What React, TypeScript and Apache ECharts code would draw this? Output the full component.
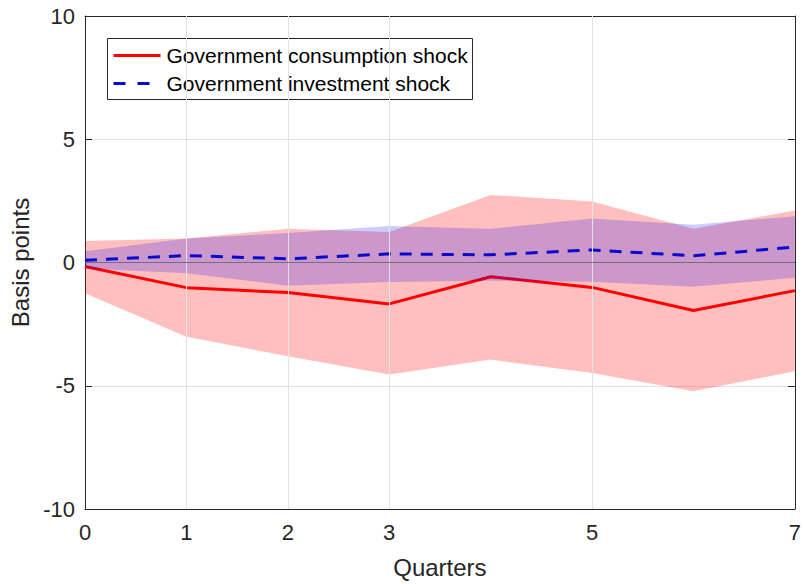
import React, { useEffect, useRef } from "react";
import * as echarts from "echarts";

const QUARTERS = [0, 1, 2, 3, 4, 5, 6, 7];
const X_TICKS = [0, 1, 2, 3, 5, 7];

const CONS_MEDIAN = [-0.16, -1.02, -1.22, -1.68, -0.58, -1.01, -1.95, -1.14];
const CONS_LOWER = [-1.25, -3.01, -3.8, -4.54, -3.94, -4.48, -5.22, -4.41];
const CONS_UPPER = [0.87, 0.97, 1.37, 1.24, 2.74, 2.47, 1.37, 2.11];

const INV_MEDIAN = [0.09, 0.28, 0.15, 0.35, 0.31, 0.51, 0.27, 0.63];
const INV_LOWER = [-0.24, -0.44, -0.94, -0.79, -0.74, -0.78, -0.98, -0.62];
const INV_UPPER = [0.46, 0.97, 1.2, 1.48, 1.37, 1.79, 1.53, 1.88];

const LEGEND_LABELS = ["Government consumption shock", "Government investment shock"];

const FONT = "'Liberation Sans', Arial, Helvetica, sans-serif";
const AXIS_COLOR = "#262626";
const GRID_COLOR = "#e3e3e3";
const RED = "#ff0000";
const BLUE = "#0a0acc";

function bandSeries(name: string, lower: number[], upper: number[], fill: string, z: number) {
  return {
    type: "custom",
    name,
    z,
    silent: true,
    data: QUARTERS.map((q, i) => [q, lower[i], upper[i]]),
    encode: { x: 0, y: [1, 2] },
    renderItem: (params: any, api: any) => {
      if (params.dataIndex !== 0) return null;
      const top = QUARTERS.map((q, i) => api.coord([q, upper[i]]));
      const bottom = QUARTERS.map((q, i) => api.coord([q, lower[i]])).reverse();
      return {
        type: "polygon",
        shape: { points: top.concat(bottom) },
        style: { fill, stroke: "none" },
      };
    },
  };
}

export default function App() {
  const ref = useRef<HTMLDivElement>(null);

  useEffect(() => {
    if (!ref.current) return;
    const chart = echarts.init(ref.current, null, { renderer: "svg" });

    const commonAxisLine = { show: true, onZero: false, lineStyle: { color: AXIS_COLOR, width: 1 } };

    chart.setOption({
      animation: false,
      backgroundColor: "#ffffff",
      textStyle: { fontFamily: FONT },
      grid: { left: 85, right: 4, top: 16, bottom: 72, containLabel: false },
      xAxis: [
        {
          type: "value",
          position: "bottom",
          min: 0,
          max: 7,
          name: "Quarters",
          nameLocation: "middle",
          nameGap: 46,
          nameTextStyle: { fontSize: 24, color: AXIS_COLOR, fontFamily: FONT },
          axisLine: commonAxisLine,
          axisTick: { show: true, inside: true, length: 7, customValues: X_TICKS, lineStyle: { color: AXIS_COLOR } },
          axisLabel: { show: true, customValues: X_TICKS, fontSize: 22, color: AXIS_COLOR, margin: 12, fontFamily: FONT },
          splitLine: { show: false },
        },
        {
          type: "value",
          position: "top",
          min: 0,
          max: 7,
          axisLine: commonAxisLine,
          axisTick: { show: true, inside: true, length: 7, customValues: X_TICKS, lineStyle: { color: AXIS_COLOR } },
          axisLabel: { show: false },
          splitLine: { show: false },
        },
      ],
      yAxis: [
        {
          type: "value",
          position: "left",
          min: -10,
          max: 10,
          interval: 5,
          name: "Basis points",
          nameLocation: "middle",
          nameGap: 50,
          nameTextStyle: { fontSize: 24, color: AXIS_COLOR, fontFamily: FONT },
          axisLine: commonAxisLine,
          axisTick: { show: true, inside: true, length: 7, lineStyle: { color: AXIS_COLOR } },
          axisLabel: { fontSize: 22, color: AXIS_COLOR, margin: 10, fontFamily: FONT },
          splitLine: { show: true, lineStyle: { color: GRID_COLOR, width: 1 } },
        },
        {
          type: "value",
          position: "right",
          min: -10,
          max: 10,
          interval: 5,
          axisLine: commonAxisLine,
          axisTick: { show: true, inside: true, length: 7, lineStyle: { color: AXIS_COLOR } },
          axisLabel: { show: false },
          splitLine: { show: false },
        },
      ],
      series: [
        {
          type: "line",
          name: "grid",
          data: [],
          silent: true,
          z: 0,
          markLine: {
            silent: true,
            symbol: "none",
            label: { show: false },
            lineStyle: { color: GRID_COLOR, width: 1, type: "solid" },
            data: X_TICKS.filter((v) => v !== 0 && v !== 7).map((v) => ({ xAxis: v })),
          },
        },
        bandSeries("cons band", CONS_LOWER, CONS_UPPER, "rgba(255,0,0,0.25)", 1),
        {
          type: "line",
          name: LEGEND_LABELS[0],
          z: 2,
          data: QUARTERS.map((q, i) => [q, CONS_MEDIAN[i]]),
          showSymbol: false,
          symbol: "none",
          lineStyle: { color: RED, width: 3 },
          itemStyle: { color: RED },
        },
        bandSeries("inv band", INV_LOWER, INV_UPPER, "rgba(0,0,255,0.2)", 3),
        {
          type: "line",
          name: LEGEND_LABELS[1],
          z: 4,
          data: QUARTERS.map((q, i) => [q, INV_MEDIAN[i]]),
          showSymbol: false,
          symbol: "none",
          lineStyle: { color: BLUE, width: 3, type: [12, 9] },
          itemStyle: { color: BLUE },
          markLine: {
            silent: true,
            symbol: "none",
            label: { show: false },
            lineStyle: { color: "#6f6f7f", width: 1.2, type: "solid" },
            data: [{ yAxis: 0 }],
          },
        },
      ],
      graphic: [
        {
          type: "group",
          left: 107,
          top: 38,
          z: 100,
          children: [
            {
              type: "rect",
              shape: { x: 0, y: 0, width: 365, height: 61 },
              style: { fill: "#ffffff", stroke: AXIS_COLOR, lineWidth: 1 },
            },
            {
              type: "line",
              shape: { x1: 6, y1: 17, x2: 53, y2: 17 },
              style: { stroke: RED, lineWidth: 3 },
            },
            {
              type: "line",
              shape: { x1: 6, y1: 45, x2: 53, y2: 45 },
              style: { stroke: BLUE, lineWidth: 3, lineDash: [12, 12] },
            },
            {
              type: "text",
              x: 59,
              y: 17,
              style: { text: LEGEND_LABELS[0], fontSize: 21, fontFamily: FONT, fill: "#000000", verticalAlign: "middle", align: "left" },
            },
            {
              type: "text",
              x: 59,
              y: 45,
              style: { text: LEGEND_LABELS[1], fontSize: 21, fontFamily: FONT, fill: "#000000", verticalAlign: "middle", align: "left" },
            },
          ],
        },
      ],
    });

    return () => chart.dispose();
  }, []);

  return (
    <div
      ref={ref}
      style={{ position: "fixed", left: 0, top: 0, width: 804, height: 584, background: "#fff" }}
    />
  );
}
